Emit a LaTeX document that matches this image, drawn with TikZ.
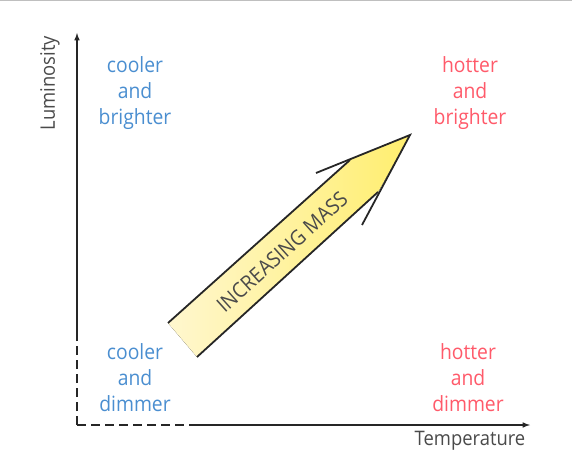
\documentclass[tikz,border=0pt]{standalone}
\usepackage{fontspec}
\setmainfont[FakeStretch=0.92]{Open Sans}
\usetikzlibrary{arrows}
\usetikzlibrary{positioning, calc}
\usepackage{xcolor}

\definecolor{coolblue}{HTML}{4A8ED0}
\definecolor{hotred}{HTML}{FF5A6A}
\definecolor{massyellow}{HTML}{FFEE6E}
\definecolor{paleyellow}{HTML}{FFF7CF}
\definecolor{labelgray}{HTML}{4A4A4A}

\begin{document}
\begin{tikzpicture}[x=1pt, y=-1pt,
        axis/.style={line width=1.5pt, black!85},
        region/.style={align=center, font=\fontsize{21}{26}\selectfont},
        axislabel/.style={text=labelgray, font=\fontsize{20}{24}\selectfont}]
        \useasboundingbox (0,0) rectangle (572,462);
        \draw[black!25, line width=1.5pt] (0,0.75) -- (572,0.75);

        % axes
        \coordinate (origin) at (77,425);
        \coordinate (ybreak) at (77,334);
        \coordinate (ytop) at (77,33);
        \coordinate (xbreak) at (192,425);
        \coordinate (xend) at (530,425);
        \draw[axis, dash pattern=on 9pt off 5pt] (origin) -- (ybreak);
        \draw[axis, -latex] (ybreak) -- (ytop);
        \draw[axis, dash pattern=on 9pt off 5pt] (origin) -- (xbreak);
        \draw[axis, -latex] (xbreak) -- (xend);

        \node[axislabel, rotate=90] (lum) at (50,83) {Luminosity};
        \node[axislabel] (temp) at (470,441) {Temperature};

        % corner labels
        \node[region, text=coolblue] (coolbright) at (135,93) {cooler\\and\\brighter};
        \node[region, text=hotred] (hotbright) at (470,93) {hotter\\and\\brighter};
        \node[region, text=coolblue] (cooldim) at (135,378) {cooler\\and\\dimmer};
        \node[region, text=hotred] (hotdim) at (468,378) {hotter\\and\\dimmer};

        % mass arrow
        \coordinate (tailA) at (168,323);
        \coordinate (tailB) at (197,357);
        \coordinate (shoulderA) at (350,160);
        \coordinate (shoulderB) at (378,192);
        \coordinate (tip) at (410,135);
        \coordinate (barbA) at (316,173);
        \coordinate (barbB) at (362,225);
        \fill[left color=paleyellow, right color=massyellow]
            (tailA) -- (shoulderA) -- (tip) -- (shoulderB) -- (tailB) -- cycle;
        \draw[line width=1.8pt, black!85] (tailA) -- (shoulderA);
        \draw[line width=1.8pt, black!85] (tailB) -- (shoulderB);
        \draw[line width=1.8pt, black!85, miter limit=20] (barbA) -- (tip) -- (barbB);
        \node[text=labelgray, rotate=42, font=\fontsize{21}{24}\selectfont] (mass) at (282,252) {INCREASING MASS};
\end{tikzpicture}
\end{document}
